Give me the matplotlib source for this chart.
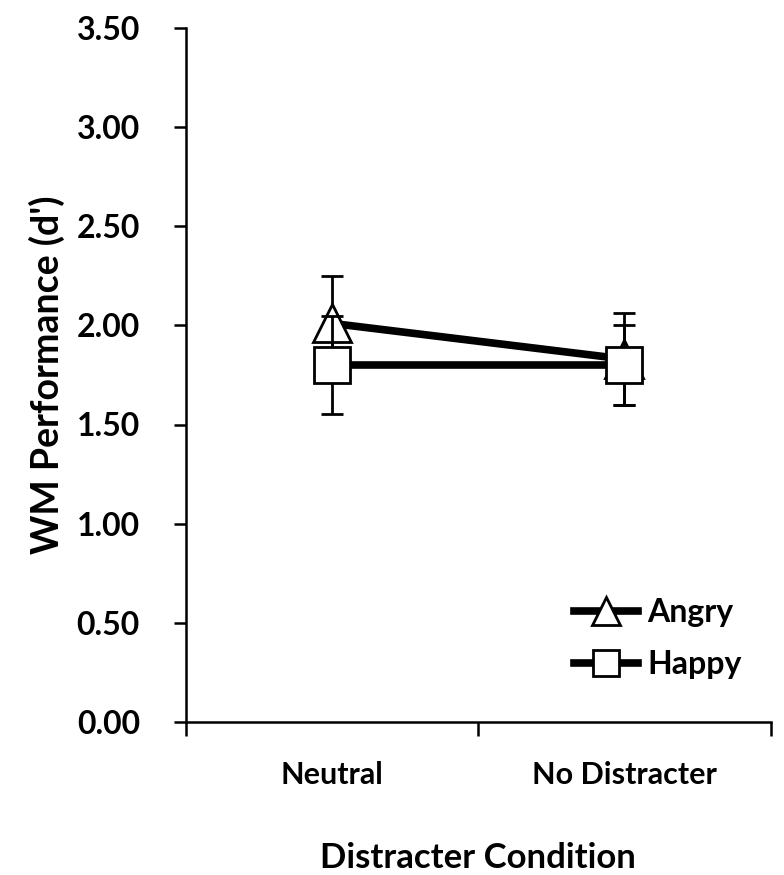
import matplotlib.pyplot as plt
from matplotlib.lines import Line2D

plt.rcParams['font.family'] = ['Lato', 'DejaVu Sans']
plt.rcParams['font.weight'] = 'bold'

# data
conditions = ['Neutral', 'No Distracter']
angry = [2.01, 1.83]
angry_err = [0.24, 0.23]
happy = [1.80, 1.80]
happy_err = [0.245, 0.20]
y_ticks = [0.0, 0.5, 1.0, 1.5, 2.0, 2.5, 3.0, 3.5]

fig = plt.figure(figsize=(7.84, 8.75), dpi=100)
ax = fig.add_axes([0.237, 0.175, 0.746, 0.793])

x = list(range(len(conditions)))

ax.errorbar(x, angry, yerr=angry_err, color='black', lw=5.5, marker='^',
            markersize=27, markerfacecolor='white', markeredgecolor='black',
            markeredgewidth=2, ecolor='black', elinewidth=2, capsize=8,
            capthick=2, zorder=2)
ax.errorbar(x, happy, yerr=happy_err, color='black', lw=5.5, marker='s',
            markersize=26, markerfacecolor='white', markeredgecolor='black',
            markeredgewidth=2, ecolor='black', elinewidth=2, capsize=8,
            capthick=2, zorder=3)

ax.set_xlim(-0.5, 1.5)
ax.set_ylim(0, 3.5)
ax.set_yticks(y_ticks)
ax.set_yticklabels(['%.2f' % v for v in y_ticks], fontsize=23, fontweight='bold')
ax.set_xticks([-0.5, 0.5, 1.5])
ax.set_xticklabels([])
ax.set_xticks(x, minor=True)
ax.set_xticklabels(conditions, minor=True, fontsize=22, fontweight='bold')
ax.tick_params(axis='x', which='minor', length=0, pad=28)
ax.tick_params(axis='x', which='major', length=10, width=1.8, direction='out')
ax.tick_params(axis='y', length=9, width=1.8, direction='out', pad=24)

ax.spines['top'].set_visible(False)
ax.spines['right'].set_visible(False)
ax.spines['left'].set_linewidth(1.8)
ax.spines['bottom'].set_linewidth(1.8)

ax.set_ylabel("WM Performance (d')", fontsize=27, fontweight='bold', labelpad=8)
ax.set_xlabel('Distracter Condition', fontsize=25, fontweight='bold', labelpad=38)

handles = [
    Line2D([], [], color='black', lw=5.5, marker='^', markersize=20,
           markerfacecolor='white', markeredgecolor='black', markeredgewidth=2),
    Line2D([], [], color='black', lw=5.5, marker='s', markersize=19,
           markerfacecolor='white', markeredgecolor='black', markeredgewidth=2),
]
ax.legend(handles, ['Angry', 'Happy'], loc='lower right',
          bbox_to_anchor=(1.0, 0.02), frameon=False, handlelength=2.0,
          labelspacing=0.72, handletextpad=0.3,
          prop={'weight': 'bold', 'size': 23})

fig.savefig('out.png', dpi=100)
